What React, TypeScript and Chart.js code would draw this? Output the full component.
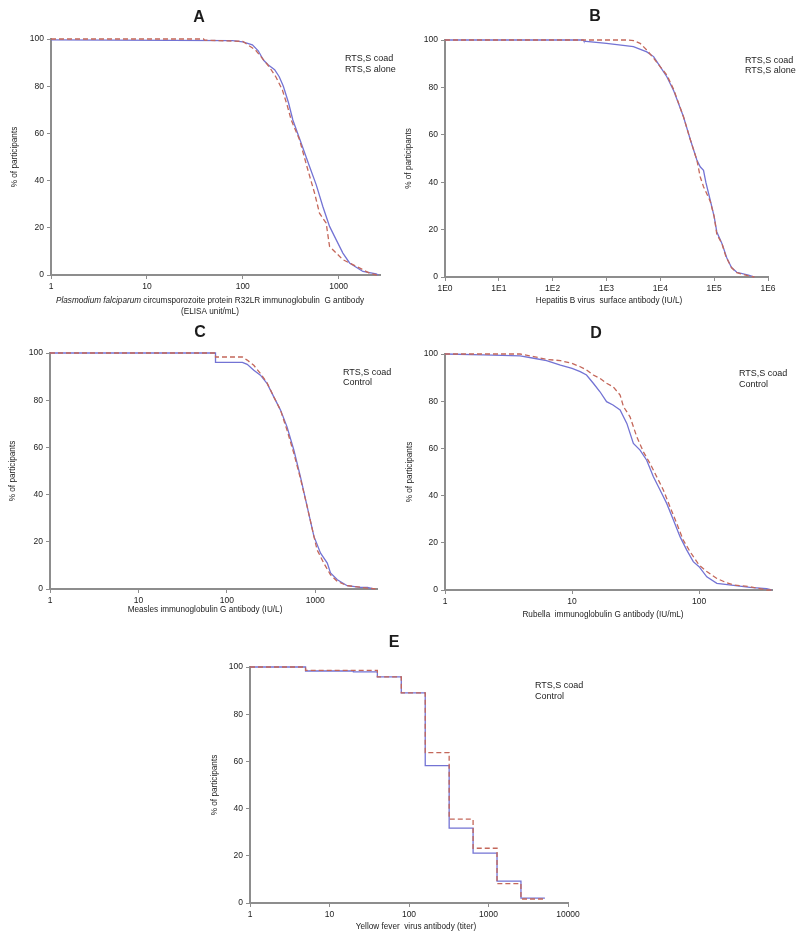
import React, { useEffect, useRef } from 'react';
import { Chart, registerables } from 'chart.js';

Chart.register(...registerables);

const FONT = '"Liberation Sans", Arial, Helvetica, sans-serif';
const BLUE = '#7373d4';
const RED = '#c4675a';
const AXIS = '#8d8d8d';
const TEXT = '#1c1c1c';

// ---------- data ----------
const yTicks = [0, 20, 40, 60, 80, 100];

// Panel A
const aTickValues = [1, 10, 100, 1000];
const aTickLabels = ['1', '10', '100', '1000'];
const aCoadX = [1, 78, 100, 126, 145, 165, 185, 215, 240, 265, 300, 333, 407, 497, 584, 684, 804, 944, 1107, 1300, 1790, 2460, 2600];
const aCoadY = [99.6, 99.3, 98.8, 97.5, 95, 91, 89, 87, 84, 80, 73, 65.7, 55.8, 46, 38.2, 29, 20.6, 14.9, 9.3, 5.1, 1.5, 0.5, 0];
const aAloneX = [1, 39, 40, 100, 107, 136, 160, 188, 221, 259, 290, 320, 391, 477, 561, 631, 741, 804, 944, 1107, 1407, 2100, 2500];
const aAloneY = [100, 100, 99.5, 99, 98.2, 95.3, 91.8, 88.3, 84, 78.4, 72, 65.7, 57.3, 44.6, 34.7, 26.2, 22, 12.1, 9.3, 6.5, 4.4, 0.8, 0];

// Panel B
const bTickValues = [1, 10, 100, 1000, 10000, 100000, 1000000];
const bTickLabels = ['1E0', '1E1', '1E2', '1E3', '1E4', '1E5', '1E6'];
const bCoadX = [1, 370, 380, 1000, 3160, 5600, 7500, 10000, 13200, 17800, 26900, 36000, 47700, 55000, 63400, 70000, 84300, 100000, 112000, 140000, 172000, 210000, 263000, 434000, 560000];
const bCoadY = [100, 100, 99.5, 98.6, 97.2, 95, 93, 88.7, 84.5, 78.5, 67.6, 58, 49.4, 46.5, 45, 40, 32.5, 25.5, 19, 14, 8, 4, 2, 0.8, 0];
const bAloneX = [1, 2400, 3200, 4200, 5600, 7500, 10000, 13200, 17800, 26900, 36000, 47700, 55000, 63400, 84300, 100000, 112000, 140000, 165000, 210000, 263000, 434000, 560000];
const bAloneY = [100, 100, 99.7, 98.6, 95.8, 92.3, 88.7, 85.2, 79, 67.6, 58, 49.4, 42.3, 38.1, 32, 25.5, 18, 14, 8.6, 4, 1.8, 0.5, 0];

// Panel C
const cTickValues = [1, 10, 100, 1000];
const cTickLabels = ['1', '10', '100', '1000'];
const cCoadX = [1, 74.5, 74.5, 150, 170, 202, 240, 286, 340, 405, 480, 573, 680, 810, 967, 1150, 1370, 1490, 1780, 2300, 3250, 3900, 4600];
const cCoadY = [100, 100, 96, 96, 95.2, 92.7, 90.6, 87, 81.4, 75.8, 68.7, 58.9, 47.6, 35, 22.3, 15.2, 11, 6.8, 3.9, 1.4, 0.7, 0.7, 0];
const cControlX = [1, 74.5, 74.5, 150, 170, 202, 240, 286, 340, 405, 480, 573, 680, 810, 967, 1050, 1250, 1490, 1780, 2300, 3900, 4800];
const cControlY = [100, 100, 98.3, 98.3, 97, 94.8, 91.3, 87.3, 81.4, 75.8, 67.3, 57.5, 46.9, 35, 22.3, 16.6, 11, 6, 3.2, 1.4, 0.4, 0];

// Panel D
const dTickValues = [1, 10, 100];
const dTickLabels = ['1', '10', '100'];
const dCoadX = [1, 2, 3.9, 5, 6.3, 8.1, 10, 11.6, 13, 14.7, 16.6, 18.7, 21, 23.9, 27, 30.4, 34.3, 38.7, 43.7, 49.3, 55.6, 62.8, 70.8, 80, 90, 100, 115, 138, 187, 251, 340, 372];
const dCoadY = [100, 99.6, 99.2, 98.2, 97.2, 95.3, 93.9, 92.5, 91.1, 87.6, 84, 79.8, 78.4, 76.3, 70.6, 62.1, 59.3, 55, 48, 42.4, 36.7, 29.7, 22.6, 16.9, 12, 9.9, 5.6, 2.8, 2, 1.1, 0.6, 0];
const dControlX = [1, 3.9, 5, 6.3, 8.1, 10, 11.6, 13, 14.7, 16.6, 18.7, 21, 23.9, 25.4, 28.6, 32.3, 36.4, 41, 46.4, 52.3, 59, 66.7, 75, 85, 100, 115, 138, 164, 187, 251, 340, 372];
const dControlY = [100, 100, 98.9, 97.7, 97.2, 96, 94.6, 93.2, 91.1, 89.7, 87.6, 86.2, 82.6, 77.7, 73.4, 65, 58.6, 53.7, 48, 42.4, 35.3, 28.2, 21.2, 16.2, 10.6, 7.8, 4.9, 3.1, 2.1, 1.4, 0, 0];

// Panel E (titer steps)
const eTickValues = [1, 10, 100, 1000, 10000];
const eTickLabels = ['1', '10', '100', '1000', '10000'];
const eCoadX = [1, 5, 20, 40, 80, 160, 320, 640, 1280, 2560, 5120];
const eCoadY = [100, 98.3, 97.9, 95.8, 89, 58.2, 31.7, 21.1, 9.3, 2.1, 2.1];
const eControlX = [1, 5, 40, 80, 160, 320, 640, 1280, 2560, 5120];
const eControlY = [100, 98.6, 95.8, 89, 63.7, 35.5, 23.2, 8.2, 1.7, 1.7];

// ---------- layout ----------
type Seg = { t: string; i?: boolean };
type Panel = {
  letter: string;
  area: { l: number; t: number; r: number; b: number };
  xMax: number;
  tickValues: number[];
  tickLabels: string[];
  blue: [number[], number[]];
  red: [number[], number[]];
  stepped: boolean;
  legend: string[];
  legendPos: [number, number];
  letterPos: [number, number];
  xTitle: Seg[][];
  xTitlePos: [number, number];
  yTitleX: number;
};

const PANELS: Panel[] = [
  {
    letter: 'A', area: { l: 51, t: 39, r: 380, b: 275 }, xMax: 2700,
    tickValues: aTickValues, tickLabels: aTickLabels,
    blue: [aCoadX, aCoadY], red: [aAloneX, aAloneY], stepped: false,
    legend: ['RTS,S coad', 'RTS,S alone'], legendPos: [345, 59], letterPos: [199, 18],
    xTitle: [[{ t: 'Plasmodium falciparum', i: true }, { t: ' circumsporozoite protein R32LR immunoglobulin  G antibody' }], [{ t: '(ELISA unit/mL)' }]],
    xTitlePos: [210, 300.5], yTitleX: 15,
  },
  {
    letter: 'B', area: { l: 445, t: 40, r: 768, b: 277 }, xMax: 1000000,
    tickValues: bTickValues, tickLabels: bTickLabels,
    blue: [bCoadX, bCoadY], red: [bAloneX, bAloneY], stepped: false,
    legend: ['RTS,S coad', 'RTS,S alone'], legendPos: [745, 60.5], letterPos: [595, 17],
    xTitle: [[{ t: 'Hepatitis B virus  surface antibody (IU/L)' }]],
    xTitlePos: [609, 300.5], yTitleX: 409,
  },
  {
    letter: 'C', area: { l: 50, t: 353, r: 377, b: 589 }, xMax: 5000,
    tickValues: cTickValues, tickLabels: cTickLabels,
    blue: [cCoadX, cCoadY], red: [cControlX, cControlY], stepped: false,
    legend: ['RTS,S coad', 'Control'], legendPos: [343, 372.5], letterPos: [200, 333],
    xTitle: [[{ t: 'Measles immunoglobulin G antibody (IU/L)' }]],
    xTitlePos: [205, 610], yTitleX: 13,
  },
  {
    letter: 'D', area: { l: 445, t: 354, r: 772, b: 590 }, xMax: 375,
    tickValues: dTickValues, tickLabels: dTickLabels,
    blue: [dCoadX, dCoadY], red: [dControlX, dControlY], stepped: false,
    legend: ['RTS,S coad', 'Control'], legendPos: [739, 374], letterPos: [596, 334],
    xTitle: [[{ t: 'Rubella  immunoglobulin G antibody (IU/mL)' }]],
    xTitlePos: [603, 615], yTitleX: 410,
  },
  {
    letter: 'E', area: { l: 250, t: 667, r: 568, b: 903 }, xMax: 10000,
    tickValues: eTickValues, tickLabels: eTickLabels,
    blue: [eCoadX, eCoadY], red: [eControlX, eControlY], stepped: true,
    legend: ['RTS,S coad', 'Control'], legendPos: [535, 686], letterPos: [394, 643],
    xTitle: [[{ t: 'Yellow fever  virus antibody (titer)' }]],
    xTitlePos: [416, 927], yTitleX: 215,
  },
];

const W = 800;
const H = 942;
const Y_W = 42;
const X_H = 40;
const TICK_FONT = 8.5;
const LABEL_FONT = 8.2;

function pts(xs: number[], ys: number[]) {
  return xs.map((x, i) => ({ x, y: ys[i] }));
}

function textPlugin(p: Panel) {
  return {
    id: 'panelText' + p.letter,
    afterDraw(chart: any) {
      const { ctx, chartArea: a } = chart;
      ctx.save();
      ctx.fillStyle = TEXT;
      ctx.textBaseline = 'middle';
      // panel letter
      ctx.font = `bold 16px ${FONT}`;
      ctx.textAlign = 'center';
      ctx.fillText(p.letter, p.letterPos[0], p.letterPos[1]);
      // legend text
      ctx.font = `9px ${FONT}`;
      ctx.textAlign = 'left';
      p.legend.forEach((t, i) => ctx.fillText(t, p.legendPos[0], p.legendPos[1] + i * 10.5));
      // x title (supports italic segments)
      ctx.textAlign = 'left';
      p.xTitle.forEach((line, li) => {
        const fonts = line.map((s) => `${s.i ? 'italic ' : ''}${LABEL_FONT}px ${FONT}`);
        let total = 0;
        const widths = line.map((s, k) => {
          ctx.font = fonts[k];
          const w = ctx.measureText(s.t).width;
          total += w;
          return w;
        });
        let x = p.xTitlePos[0] - total / 2;
        const y = p.xTitlePos[1] + li * 11;
        line.forEach((s, k) => {
          ctx.font = fonts[k];
          ctx.fillText(s.t, x, y);
          x += widths[k];
        });
      });
      // y title
      ctx.font = `${LABEL_FONT}px ${FONT}`;
      ctx.translate(p.yTitleX, (a.top + a.bottom) / 2);
      ctx.rotate(-Math.PI / 2);
      ctx.textAlign = 'center';
      ctx.fillText('% of participants', 0, 0);
      ctx.restore();
    },
  };
}

function makeConfig(p: Panel): any {
  const line = {
    pointRadius: 0,
    borderWidth: 1.3,
    tension: 0,
    fill: false,
    clip: false as any,
    stepped: p.stepped,
  };
  const gridCfg = {
    display: true,
    drawOnChartArea: false,
    drawTicks: true,
    tickLength: 4,
    color: AXIS,
    lineWidth: 1,
  };
  const borderCfg = { display: true, color: AXIS, width: 2 };
  return {
    type: 'line',
    data: {
      datasets: [
        { ...line, label: p.legend[1], data: pts(p.red[0], p.red[1]), borderColor: RED, borderDash: [5, 3] },
        { ...line, label: p.legend[0], data: pts(p.blue[0], p.blue[1]), borderColor: BLUE },
      ],
    },
    options: {
      responsive: false,
      animation: false,
      events: [],
      layout: {
        padding: {
          left: p.area.l - Y_W,
          top: p.area.t,
          right: W - p.area.r,
          bottom: H - p.area.b - X_H,
        },
      },
      plugins: {
        legend: { display: false },
        title: { display: false },
        tooltip: { enabled: false },
      },
      scales: {
        x: {
          type: 'logarithmic',
          min: 1,
          max: p.xMax,
          afterBuildTicks: (s: any) => {
            s.ticks = p.tickValues.map((v) => ({ value: v }));
          },
          afterFit: (s: any) => {
            s.height = X_H;
            s.paddingLeft = 0;
            s.paddingRight = 0;
          },
          ticks: {
            autoSkip: false,
            maxRotation: 0,
            padding: 3,
            color: TEXT,
            font: { size: TICK_FONT, family: FONT },
            callback: (_v: any, i: number) => p.tickLabels[i],
          },
          grid: gridCfg,
          border: borderCfg,
        },
        y: {
          type: 'linear',
          min: 0,
          max: 100,
          afterBuildTicks: (s: any) => {
            s.ticks = yTicks.map((v) => ({ value: v }));
          },
          afterFit: (s: any) => {
            s.width = Y_W;
            s.paddingTop = 0;
            s.paddingBottom = 0;
          },
          ticks: {
            padding: 3,
            color: TEXT,
            font: { size: TICK_FONT, family: FONT },
          },
          grid: gridCfg,
          border: borderCfg,
        },
      },
    },
    plugins: [textPlugin(p)],
  };
}

export default function App() {
  const refs = useRef<(HTMLCanvasElement | null)[]>([]);
  useEffect(() => {
    const charts = PANELS.map((p, i) => new Chart(refs.current[i] as HTMLCanvasElement, makeConfig(p)));
    return () => charts.forEach((c) => c.destroy());
  }, []);
  return (
    <div style={{ position: 'absolute', left: 0, top: 0, width: W, height: H, background: '#fff' }}>
      {PANELS.map((p, i) => (
        <canvas
          key={p.letter}
          ref={(el) => {
            refs.current[i] = el;
          }}
          width={W}
          height={H}
          style={{ position: 'absolute', left: 0, top: 0, width: W, height: H }}
        />
      ))}
    </div>
  );
}
